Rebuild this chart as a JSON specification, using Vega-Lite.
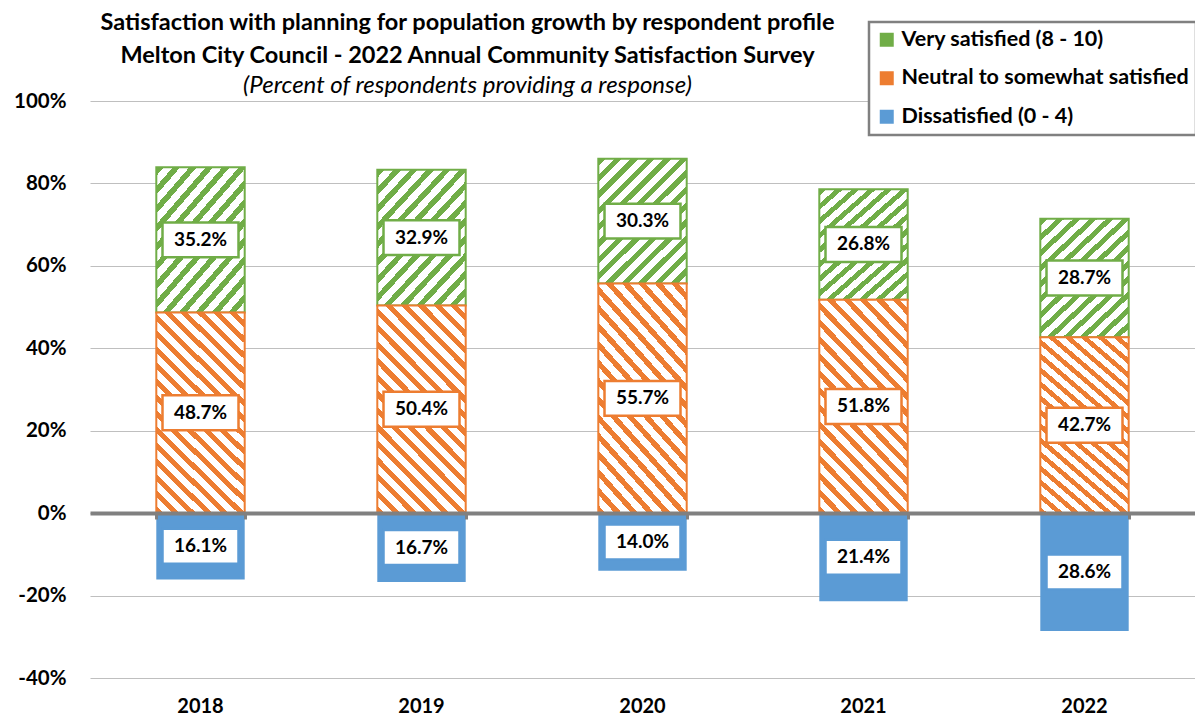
{
  "$schema": "https://vega.github.io/schema/vega-lite/v6.json",
  "autosize": {"type": "none"},
  "padding": {"left": 90, "top": 101, "right": 0, "bottom": 39},
  "width": 1105,
  "height": 577,
  "background": "white",
  "config": {
    "font": "Lato",
    "view": {"stroke": null}
  },
  "title": {
    "text": ["Satisfaction with planning for population growth by respondent profile", "Melton City Council - 2022 Annual Community Satisfaction Survey"],
    "subtitle": "(Percent of respondents providing a response)",
    "anchor": "middle",
    "frame": "group",
    "dx": -175,
    "offset": -77,
    "fontSize": 23.5,
    "fontWeight": "bold",
    "color": "#000000",
    "lineHeight": 33,
    "subtitleFontSize": 24,
    "subtitleFontStyle": "italic",
    "subtitleFontWeight": "normal",
    "subtitleColor": "#000000",
    "subtitlePadding": 6
  },
  "data": {
    "values": [
      {"year": "2018", "cat": "Dissatisfied (0 - 4)", "value": -16.1, "label": "16.1%"},
      {"year": "2018", "cat": "Neutral to somewhat satisfied", "value": 48.7, "label": "48.7%"},
      {"year": "2018", "cat": "Very satisfied (8 - 10)", "value": 35.2, "label": "35.2%"},
      {"year": "2019", "cat": "Dissatisfied (0 - 4)", "value": -16.7, "label": "16.7%"},
      {"year": "2019", "cat": "Neutral to somewhat satisfied", "value": 50.4, "label": "50.4%"},
      {"year": "2019", "cat": "Very satisfied (8 - 10)", "value": 32.9, "label": "32.9%"},
      {"year": "2020", "cat": "Dissatisfied (0 - 4)", "value": -14.0, "label": "14.0%"},
      {"year": "2020", "cat": "Neutral to somewhat satisfied", "value": 55.7, "label": "55.7%"},
      {"year": "2020", "cat": "Very satisfied (8 - 10)", "value": 30.3, "label": "30.3%"},
      {"year": "2021", "cat": "Dissatisfied (0 - 4)", "value": -21.4, "label": "21.4%"},
      {"year": "2021", "cat": "Neutral to somewhat satisfied", "value": 51.8, "label": "51.8%"},
      {"year": "2021", "cat": "Very satisfied (8 - 10)", "value": 26.8, "label": "26.8%"},
      {"year": "2022", "cat": "Dissatisfied (0 - 4)", "value": -28.6, "label": "28.6%"},
      {"year": "2022", "cat": "Neutral to somewhat satisfied", "value": 42.7, "label": "42.7%"},
      {"year": "2022", "cat": "Very satisfied (8 - 10)", "value": 28.7, "label": "28.7%"}
    ]
  },
  "transform": [
    {"stack": "value", "groupby": ["year"], "as": ["y0", "y1"]}
  ],
  "resolve": {"axis": {"x": "independent"}},
  "layer": [
    {
      "mark": {"type": "bar"},
      "encoding": {
        "x": {
          "field": "year", "type": "nominal",
          "scale": {"type": "band", "paddingInner": 0.6, "paddingOuter": 0.3},
          "axis": {"orient": "bottom", "title": null, "domain": false, "ticks": false, "labelAngle": 0, "labelFontSize": 20, "labelFontWeight": "bold", "labelColor": "#000000", "labelPadding": 18, "labelFont": "Lato"}
        },
        "y": {
          "field": "y0", "type": "quantitative",
          "scale": {"domain": [-40, 100], "nice": false},
          "axis": {"title": null, "values": [-40, -20, 0, 20, 40, 60, 80, 100], "labelExpr": "datum.value + '%'", "domain": false, "ticks": false, "grid": true, "gridColor": "#BFBFBF", "gridWidth": 1.2, "labelFontSize": 20.5, "labelFontWeight": "bold", "labelColor": "#000000", "labelPadding": 24, "labelFont": "Lato"}
        },
        "y2": {"field": "y1"},
        "fill": {
          "field": "cat", "type": "nominal",
          "scale": {"domain": ["Very satisfied (8 - 10)", "Neutral to somewhat satisfied", "Dissatisfied (0 - 4)"], "range": ["#70AD47", "#ED7D31", "#5B9BD5"]},
          "legend": {
            "title": null, "orient": "none", "legendX": 779, "legendY": -79,
            "symbolType": "square", "symbolSize": 196, "symbolStrokeWidth": 0,
            "labelFontSize": 21.5, "labelFontWeight": "bold", "labelColor": "#000000", "labelFont": "Lato", "labelLimit": 500,
            "rowPadding": 15.5, "padding": 7, "fillColor": "#FFFFFF", "strokeColor": "#808080", "labelOffset": 4,
            "encode": {
              "legend": {"update": {"strokeWidth": {"value": 2.5}}},
              "symbols": {"update": {"fill": {"signal": "datum.value === 'Very satisfied (8 - 10)' ? {gradient: 'linear', x1: 0, y1: 0, x2: 1, y2: 1, stops: [{offset: 0, color: '#70AD47'}, {offset: 0.42, color: '#70AD47'}, {offset: 0.42, color: '#E2F0D9'}, {offset: 0.58, color: '#E2F0D9'}, {offset: 0.58, color: '#70AD47'}, {offset: 1, color: '#70AD47'}]} : datum.value === 'Neutral to somewhat satisfied' ? {gradient: 'linear', x1: 0, y1: 1, x2: 1, y2: 0, stops: [{offset: 0, color: '#ED7D31'}, {offset: 0.35, color: '#ED7D31'}, {offset: 0.35, color: '#FBE5D6'}, {offset: 0.65, color: '#FBE5D6'}, {offset: 0.65, color: '#ED7D31'}, {offset: 1, color: '#ED7D31'}]} : '#5B9BD5'"}}}
            }
          }
        }
      }
    },
    {
      "transform": [{"filter": "datum.cat === 'Very satisfied (8 - 10)'"}],
      "mark": {
        "type": "bar", "stroke": "#70AD47", "strokeWidth": 2,
        "fill": {"gradient": "linear", "x1": 0, "y1": 0, "x2": 0.8, "y2": 1.14, "stops": [
          {"offset": 0, "color": "#70AD47"}, {"offset": 0.0346, "color": "#70AD47"}, {"offset": 0.0346, "color": "#FFFFFF"}, {"offset": 0.0769, "color": "#FFFFFF"},
          {"offset": 0.0769, "color": "#70AD47"}, {"offset": 0.1115, "color": "#70AD47"}, {"offset": 0.1115, "color": "#FFFFFF"}, {"offset": 0.1538, "color": "#FFFFFF"},
          {"offset": 0.1538, "color": "#70AD47"}, {"offset": 0.1884, "color": "#70AD47"}, {"offset": 0.1884, "color": "#FFFFFF"}, {"offset": 0.2308, "color": "#FFFFFF"},
          {"offset": 0.2308, "color": "#70AD47"}, {"offset": 0.2654, "color": "#70AD47"}, {"offset": 0.2654, "color": "#FFFFFF"}, {"offset": 0.3077, "color": "#FFFFFF"},
          {"offset": 0.3077, "color": "#70AD47"}, {"offset": 0.3423, "color": "#70AD47"}, {"offset": 0.3423, "color": "#FFFFFF"}, {"offset": 0.3846, "color": "#FFFFFF"},
          {"offset": 0.3846, "color": "#70AD47"}, {"offset": 0.4192, "color": "#70AD47"}, {"offset": 0.4192, "color": "#FFFFFF"}, {"offset": 0.4615, "color": "#FFFFFF"},
          {"offset": 0.4615, "color": "#70AD47"}, {"offset": 0.4961, "color": "#70AD47"}, {"offset": 0.4961, "color": "#FFFFFF"}, {"offset": 0.5385, "color": "#FFFFFF"},
          {"offset": 0.5385, "color": "#70AD47"}, {"offset": 0.5731, "color": "#70AD47"}, {"offset": 0.5731, "color": "#FFFFFF"}, {"offset": 0.6154, "color": "#FFFFFF"},
          {"offset": 0.6154, "color": "#70AD47"}, {"offset": 0.65, "color": "#70AD47"}, {"offset": 0.65, "color": "#FFFFFF"}, {"offset": 0.6923, "color": "#FFFFFF"},
          {"offset": 0.6923, "color": "#70AD47"}, {"offset": 0.7269, "color": "#70AD47"}, {"offset": 0.7269, "color": "#FFFFFF"}, {"offset": 0.7692, "color": "#FFFFFF"},
          {"offset": 0.7692, "color": "#70AD47"}, {"offset": 0.8038, "color": "#70AD47"}, {"offset": 0.8038, "color": "#FFFFFF"}, {"offset": 0.8462, "color": "#FFFFFF"},
          {"offset": 0.8462, "color": "#70AD47"}, {"offset": 0.8808, "color": "#70AD47"}, {"offset": 0.8808, "color": "#FFFFFF"}, {"offset": 0.9231, "color": "#FFFFFF"},
          {"offset": 0.9231, "color": "#70AD47"}, {"offset": 0.9577, "color": "#70AD47"}, {"offset": 0.9577, "color": "#FFFFFF"}, {"offset": 1, "color": "#FFFFFF"}
        ]}
      },
      "encoding": {
        "x": {"field": "year", "type": "nominal", "axis": null},
        "y": {"field": "y0", "type": "quantitative"},
        "y2": {"field": "y1"}
      }
    },
    {
      "transform": [{"filter": "datum.cat === 'Neutral to somewhat satisfied'"}],
      "mark": {
        "type": "bar", "stroke": "#ED7D31", "strokeWidth": 2,
        "fill": {"gradient": "linear", "x1": 0, "y1": 1, "x2": 0.52, "y2": -0.21, "stops": [
          {"offset": 0, "color": "#ED7D31"}, {"offset": 0.0244, "color": "#ED7D31"}, {"offset": 0.0244, "color": "#FFFFFF"}, {"offset": 0.0556, "color": "#FFFFFF"},
          {"offset": 0.0556, "color": "#ED7D31"}, {"offset": 0.08, "color": "#ED7D31"}, {"offset": 0.08, "color": "#FFFFFF"}, {"offset": 0.1111, "color": "#FFFFFF"},
          {"offset": 0.1111, "color": "#ED7D31"}, {"offset": 0.1355, "color": "#ED7D31"}, {"offset": 0.1355, "color": "#FFFFFF"}, {"offset": 0.1667, "color": "#FFFFFF"},
          {"offset": 0.1667, "color": "#ED7D31"}, {"offset": 0.1911, "color": "#ED7D31"}, {"offset": 0.1911, "color": "#FFFFFF"}, {"offset": 0.2222, "color": "#FFFFFF"},
          {"offset": 0.2222, "color": "#ED7D31"}, {"offset": 0.2466, "color": "#ED7D31"}, {"offset": 0.2466, "color": "#FFFFFF"}, {"offset": 0.2778, "color": "#FFFFFF"},
          {"offset": 0.2778, "color": "#ED7D31"}, {"offset": 0.3022, "color": "#ED7D31"}, {"offset": 0.3022, "color": "#FFFFFF"}, {"offset": 0.3333, "color": "#FFFFFF"},
          {"offset": 0.3333, "color": "#ED7D31"}, {"offset": 0.3577, "color": "#ED7D31"}, {"offset": 0.3577, "color": "#FFFFFF"}, {"offset": 0.3889, "color": "#FFFFFF"},
          {"offset": 0.3889, "color": "#ED7D31"}, {"offset": 0.4133, "color": "#ED7D31"}, {"offset": 0.4133, "color": "#FFFFFF"}, {"offset": 0.4444, "color": "#FFFFFF"},
          {"offset": 0.4444, "color": "#ED7D31"}, {"offset": 0.4688, "color": "#ED7D31"}, {"offset": 0.4688, "color": "#FFFFFF"}, {"offset": 0.5, "color": "#FFFFFF"},
          {"offset": 0.5, "color": "#ED7D31"}, {"offset": 0.5244, "color": "#ED7D31"}, {"offset": 0.5244, "color": "#FFFFFF"}, {"offset": 0.5556, "color": "#FFFFFF"},
          {"offset": 0.5556, "color": "#ED7D31"}, {"offset": 0.58, "color": "#ED7D31"}, {"offset": 0.58, "color": "#FFFFFF"}, {"offset": 0.6111, "color": "#FFFFFF"},
          {"offset": 0.6111, "color": "#ED7D31"}, {"offset": 0.6355, "color": "#ED7D31"}, {"offset": 0.6355, "color": "#FFFFFF"}, {"offset": 0.6667, "color": "#FFFFFF"},
          {"offset": 0.6667, "color": "#ED7D31"}, {"offset": 0.6911, "color": "#ED7D31"}, {"offset": 0.6911, "color": "#FFFFFF"}, {"offset": 0.7222, "color": "#FFFFFF"},
          {"offset": 0.7222, "color": "#ED7D31"}, {"offset": 0.7466, "color": "#ED7D31"}, {"offset": 0.7466, "color": "#FFFFFF"}, {"offset": 0.7778, "color": "#FFFFFF"},
          {"offset": 0.7778, "color": "#ED7D31"}, {"offset": 0.8022, "color": "#ED7D31"}, {"offset": 0.8022, "color": "#FFFFFF"}, {"offset": 0.8333, "color": "#FFFFFF"},
          {"offset": 0.8333, "color": "#ED7D31"}, {"offset": 0.8577, "color": "#ED7D31"}, {"offset": 0.8577, "color": "#FFFFFF"}, {"offset": 0.8889, "color": "#FFFFFF"},
          {"offset": 0.8889, "color": "#ED7D31"}, {"offset": 0.9133, "color": "#ED7D31"}, {"offset": 0.9133, "color": "#FFFFFF"}, {"offset": 0.9444, "color": "#FFFFFF"},
          {"offset": 0.9444, "color": "#ED7D31"}, {"offset": 0.9688, "color": "#ED7D31"}, {"offset": 0.9688, "color": "#FFFFFF"}, {"offset": 1, "color": "#FFFFFF"}
        ]}
      },
      "encoding": {
        "x": {
          "field": "year", "type": "nominal",
          "axis": {"orient": "bottom", "offset": -165, "title": null, "labels": false, "domain": true, "domainColor": "#808080", "domainWidth": 4, "ticks": true, "tickBand": "extent", "tickColor": "#808080", "tickWidth": 3, "tickSize": 6, "zindex": 1}
        },
        "y": {"field": "y0", "type": "quantitative"},
        "y2": {"field": "y1"}
      }
    },
    {
      "transform": [{"fold": ["y0", "y1"], "as": ["k", "v"]}],
      "encoding": {
        "x": {"field": "year", "type": "nominal", "axis": null},
        "y": {"field": "v", "type": "quantitative", "aggregate": "mean"},
        "detail": {"field": "cat", "type": "nominal"}
      },
      "layer": [
        {
          "mark": {"type": "point", "shape": "M-1,-0.46H1V0.46H-1Z", "filled": true, "fill": "#FFFFFF", "opacity": 1, "size": 5776, "strokeWidth": 2.5},
          "encoding": {
            "stroke": {
              "field": "cat", "type": "nominal",
              "scale": {"domain": ["Very satisfied (8 - 10)", "Neutral to somewhat satisfied", "Dissatisfied (0 - 4)"], "range": ["#70AD47", "#ED7D31", "#5B9BD5"]},
              "legend": null
            }
          }
        },
        {
          "mark": {"type": "text", "font": "Lato", "fontSize": 19, "fontWeight": "bold", "color": "#000000", "baseline": "middle", "align": "center"},
          "encoding": {
            "text": {"field": "label", "type": "nominal"}
          }
        }
      ]
    }
  ]
}
